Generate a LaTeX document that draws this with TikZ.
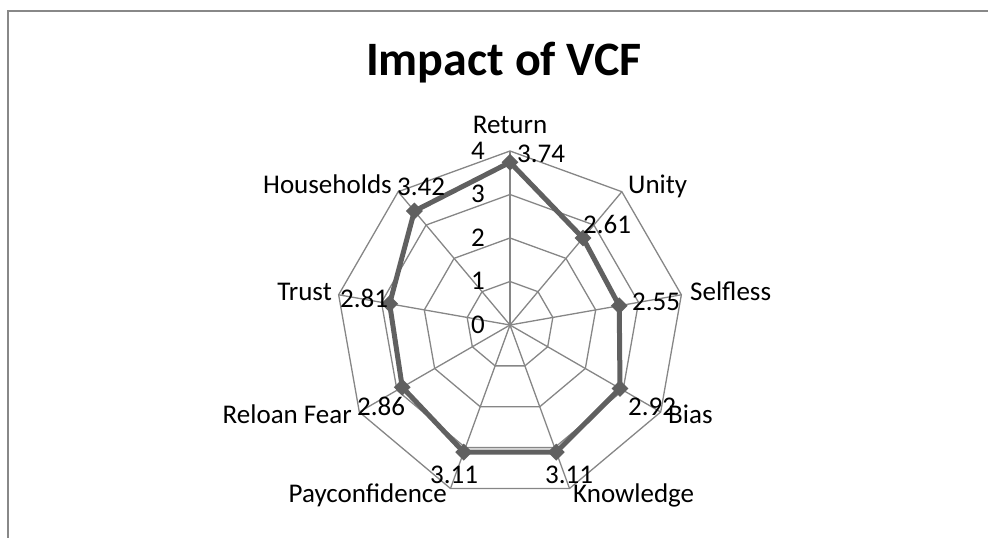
\documentclass[tikz,border=0pt]{standalone}
\usepackage{fontspec}
\setmainfont{Carlito}
\usetikzlibrary{calc,shapes.geometric}

\definecolor{framegray}{RGB}{136,136,136}
\definecolor{gridgray}{RGB}{134,134,134}
\definecolor{seriesgray}{RGB}{96,96,96}

\tikzset{
  grid/.style={draw=gridgray,line width=1.3pt,line join=miter},
  series/.style={draw=seriesgray,line width=5pt,line join=round},
  marker/.style={diamond,fill=seriesgray,inner sep=0pt,minimum size=17pt},
  txt/.style={font=\fontsize{27}{27}\selectfont,inner sep=0pt},
}

\begin{document}
\begin{tikzpicture}[x=1pt,y=1pt]
  \useasboundingbox (0,-538) rectangle (988,0);
  % chart area border
  \draw[framegray,line width=2pt] (988,-11) -- (8,-11) -- (8,-538);
  \node[font=\fontsize{48}{48}\selectfont\bfseries,inner sep=0pt,anchor=base] (title) at (504,-75) {Impact of VCF};

  \coordinate (O) at (510,-325);
  % rings and spokes
  \foreach \k in {1,...,4}
    \draw[grid] ($(O)+(90:43.5*\k)$) \foreach \i in {1,...,8} { -- ($(O)+(90-40*\i:43.5*\k)$) } -- cycle;
  \foreach \i in {0,...,8}
    \draw[grid] (O) -- ($(O)+(90-40*\i:174)$);

  % axis values
  \foreach \k in {0,...,4}
    \node[txt,anchor=base east] (tick\k) at (485,-333+43.5*\k) {\k};

  % series points
  \foreach \v [count=\i from 0] in {3.74,2.61,2.55,2.92,3.11,3.11,2.86,2.81,3.42}
    \coordinate (p\i) at ($(O)+(90-40*\i:43.5*\v)$);
  \draw[series] (p0) -- (p1) -- (p2) -- (p3) -- (p4) -- (p5) -- (p6) -- (p7) -- (p8) -- cycle;
  \foreach \i in {0,...,8}
    \node[marker] (m\i) at (p\i) {};

  % data labels
  \foreach \v/\x/\y [count=\i from 0] in {3.74/517/162, 2.61/583/233, 2.55/632/310,
      2.92/628/415, 3.11/545/483, 3.11/430/483, 2.86/357/415, 2.81/340/307, 3.42/397/195}
    \node[txt,anchor=base west] (val\i) at (\x,-\y) {\v};

  % category labels
  \node[txt,anchor=base] (return) at (510,-133) {Return};
  \node[txt,anchor=base west] (unity) at (628,-193) {Unity};
  \node[txt,anchor=base west] (selfless) at (690,-300) {Selfless};
  \node[txt,anchor=base west] (bias) at (668,-423) {Bias};
  \node[txt,anchor=base west] (knowledge) at (573,-502) {Knowledge};
  \node[txt,anchor=base east] (payconf) at (447,-502) {Payconfidence};
  \node[txt,anchor=base east] (reloan) at (352,-423) {Reloan Fear};
  \node[txt,anchor=base east] (trust) at (332,-300) {Trust};
  \node[txt,anchor=base east] (households) at (392,-193) {Households};
\end{tikzpicture}
\end{document}
